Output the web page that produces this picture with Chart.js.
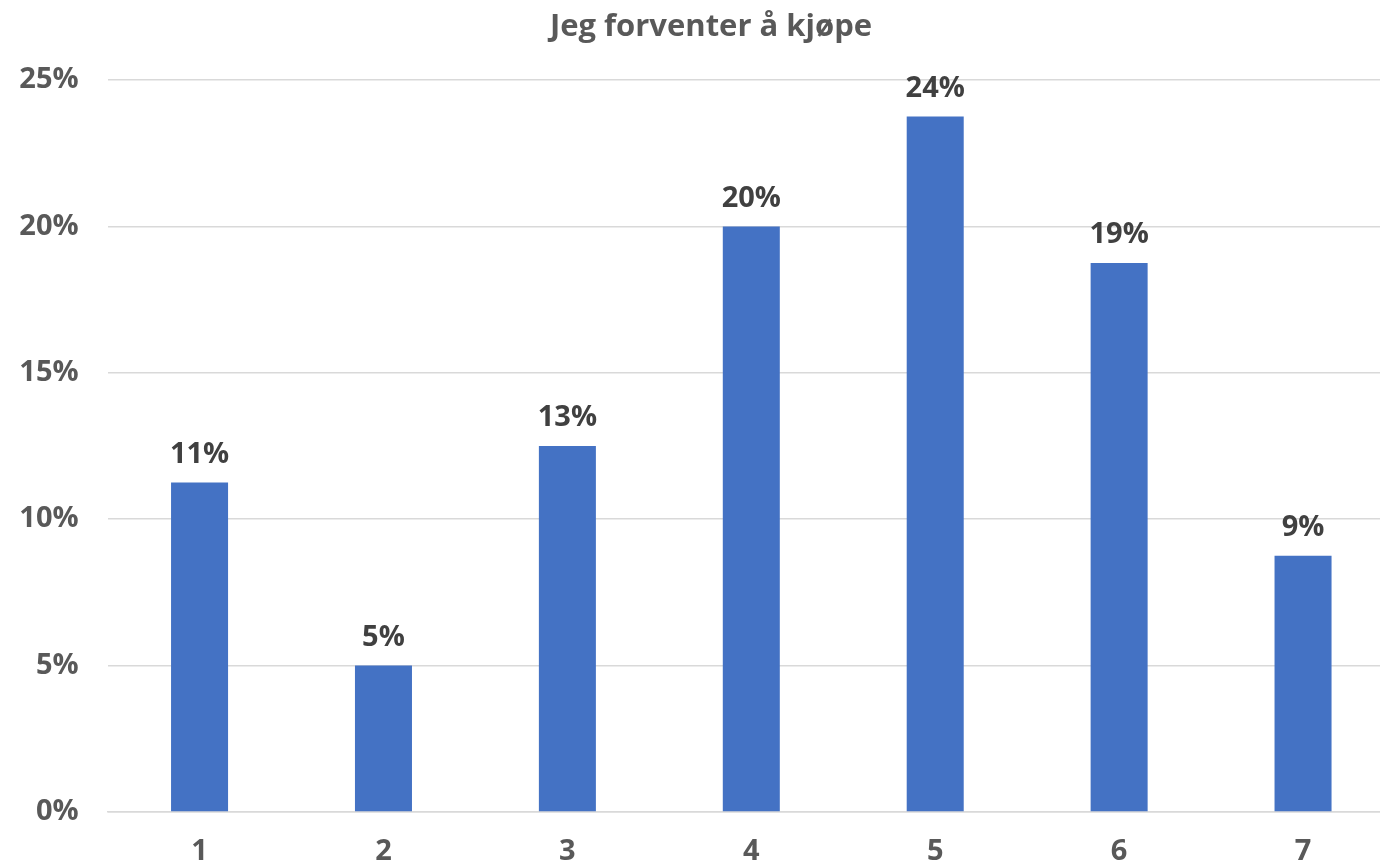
<!DOCTYPE html>
<html>
<head>
<meta charset="utf-8">
<script src="https://cdn.jsdelivr.net/npm/chart.js@4/dist/chart.umd.min.js"></script>
<style>
    html, body { margin: 0; padding: 0; background: #fff; overflow: hidden; }
    #wrap { width: 1395px; height: 861px; position: relative; }
</style>
</head>
<body>
<div id="wrap"><canvas id="chart"></canvas></div>
<script>
// data
const categories = ["1", "2", "3", "4", "5", "6", "7"];
const shares = [11.25, 5, 12.5, 20, 23.75, 18.75, 8.75];
const shareLabels = ["11%", "5%", "13%", "20%", "24%", "19%", "9%"];
const yTicks = [0, 5, 10, 15, 20, 25];
const chartTitle = "Jeg forventer å kjøpe";

const FONT = "'Open Sans', Lato, sans-serif";

// labels above each bar
const barLabels = {
    id: "barLabels",
    afterDatasetsDraw(chart) {
        let ctx = chart.ctx;
        let meta = chart.getDatasetMeta(0);
        ctx.save();
        ctx.font = "bold 29px " + FONT;
        ctx.fillStyle = "#404040";
        ctx.textAlign = "center";
        ctx.textBaseline = "middle";
        meta.data.forEach((bar, i) => {
            ctx.fillText(shareLabels[i], bar.x, bar.y - 28);
        });
        ctx.restore();
    }
};

// title, a bit right of the canvas middle like in the original
const topTitle = {
    id: "topTitle",
    afterDraw(chart) {
        let ctx = chart.ctx;
        ctx.save();
        ctx.font = "bold 31px " + FONT;
        ctx.fillStyle = "#595959";
        ctx.textAlign = "center";
        ctx.textBaseline = "middle";
        ctx.fillText(chartTitle, 711, 27);
        ctx.restore();
    }
};

let ctx = document.getElementById("chart").getContext("2d");
new Chart(ctx, {
    type: "bar",
    data: {
        labels: categories,
        datasets: [{
            data: shares,
            backgroundColor: "#4472c4",
            barPercentage: 0.31,
            categoryPercentage: 1
        }]
    },
    options: {
        responsive: true,
        maintainAspectRatio: false,
        animation: false,
        layout: { padding: { top: 80 } },
        plugins: {
            legend: { display: false },
            tooltip: { enabled: false },
            title: { display: false }
        },
        scales: {
            x: {
                grid: { display: false, drawTicks: false },
                border: { color: "#d9d9d9", width: 1.5 },
                ticks: {
                    color: "#595959",
                    font: { family: FONT, size: 29, weight: "bold" },
                    padding: 22
                },
                afterFit(axis) { axis.height = 49; }
            },
            y: {
                min: 0,
                max: 25,
                grid: { color: "#d9d9d9", lineWidth: 1.5, drawTicks: false },
                border: { display: false },
                afterBuildTicks(axis) {
                    axis.ticks = yTicks.map(v => ({ value: v }));
                },
                ticks: {
                    color: "#595959",
                    font: { family: FONT, size: 29, weight: "bold" },
                    padding: 29,
                    callback: v => v + "%"
                },
                afterFit(axis) { axis.width = 107.6; }
            }
        }
    },
    plugins: [barLabels, topTitle]
});
</script>
</body>
</html>
